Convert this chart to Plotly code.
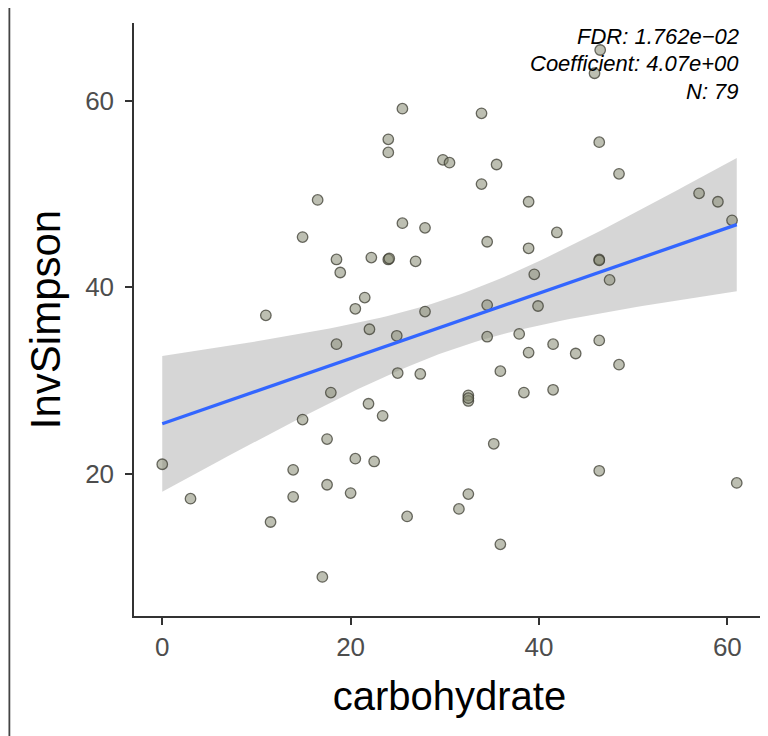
import numpy as np
import plotly.graph_objects as go

# carbohydrate intake vs InvSimpson diversity
carbohydrate = [
    25.5, 24.0, 24.0, 29.8, 30.5, 16.5, 25.5, 27.9, 14.9, 18.5,
    22.2, 24.0, 24.1, 26.9, 18.9, 21.5, 20.5, 11.0, 27.9, 46.5,
    45.9, 33.9, 35.5, 46.4, 48.5, 33.9, 38.9, 57.0, 59.0, 60.5,
    34.5, 41.9, 38.9, 46.4, 39.5, 47.5, 39.9, 34.5, 34.5, 37.9,
    41.5, 38.9, 43.9, 46.4, 48.5, 35.9, 32.5, 32.5, 38.4, 41.5,
    35.2, 46.4, 61.0, 32.5, 31.5, 35.9, 22.0, 18.5, 24.9, 25.0,
    27.4, 17.9, 21.9, 23.4, 14.9, 17.5, 20.5, 22.5, 0.0, 13.9,
    3.0, 13.9, 17.5, 20.0, 11.5, 26.0, 17.0, 32.5, 46.4,
]
inv_simpson = [
    59.2, 55.9, 54.5, 53.7, 53.4, 49.4, 46.9, 46.4, 45.4, 43.0,
    43.2, 43.0, 43.1, 42.8, 41.6, 38.9, 37.7, 37.0, 37.4, 65.5,
    63.0, 58.7, 53.2, 55.6, 52.2, 51.1, 49.2, 50.1, 49.2, 47.2,
    44.9, 45.9, 44.2, 43.0, 41.4, 40.8, 38.0, 38.1, 34.7, 35.0,
    33.9, 33.0, 32.9, 34.3, 31.7, 31.0, 28.4, 27.8, 28.7, 29.0,
    23.2, 20.3, 19.0, 17.8, 16.2, 12.4, 35.5, 33.9, 34.8, 30.8,
    30.7, 28.7, 27.5, 26.2, 25.8, 23.7, 21.6, 21.3, 21.0, 20.4,
    17.3, 17.5, 18.8, 17.9, 14.8, 15.4, 8.9, 28.1, 42.9,
]
stats_lines = ["FDR: 1.762e\u221202", "Coefficient: 4.07e+00", "N: 79"]

# linear fit with 95% confidence band (like geom_smooth(method="lm"))
x = np.array(carbohydrate)
y = np.array(inv_simpson)
n = len(x)
slope, intercept = np.polyfit(x, y, 1)
resid = y - (intercept + slope * x)
s = np.sqrt(np.sum(resid ** 2) / (n - 2))
sxx = np.sum((x - x.mean()) ** 2)
xs = np.linspace(x.min(), x.max(), 80)
fit = intercept + slope * xs
se = s * np.sqrt(1 / n + (xs - x.mean()) ** 2 / sxx)
t = 1.991
lower, upper = fit - t * se, fit + t * se

FONT = "Liberation Sans, Arial"

fig = go.Figure()
fig.add_trace(go.Scatter(
    x=np.concatenate([xs, xs[::-1]]), y=np.concatenate([upper, lower[::-1]]),
    fill="toself", fillcolor="rgba(153,153,153,0.4)", line=dict(width=0),
    mode="lines", hoverinfo="skip",
))
fig.add_trace(go.Scatter(
    x=carbohydrate, y=inv_simpson, mode="markers",
    marker=dict(size=10.5, color="rgba(135,138,115,0.55)",
                line=dict(color="rgba(60,60,50,0.75)", width=1.3)),
))
fig.add_trace(go.Scatter(
    x=xs, y=fit, mode="lines", line=dict(color="#3366FF", width=3.3),
))

for i, txt in enumerate(stats_lines):
    fig.add_annotation(
        x=0.962, y=0.978 - i * 0.047, xref="paper", yref="paper",
        text=f"<i>{txt}</i>", showarrow=False, xanchor="right", yanchor="middle",
        font=dict(family=FONT, size=22, color="black"),
    )

axis_common = dict(
    showgrid=False, zeroline=False, showline=True, linecolor="#333333", linewidth=1.5,
    ticks="outside", ticklen=7, tickwidth=1.5, tickcolor="#333333", automargin=False,
    tickfont=dict(family=FONT, size=26, color="#4d4d4d"),
)
fig.update_xaxes(range=[-3.0, 64.0], tickvals=[0, 20, 40, 60], title_text="carbohydrate",
                 title_font=dict(family=FONT, size=40, color="black"),
                 title_standoff=21, **axis_common)
fig.update_yaxes(range=[4.7, 68.4], tickvals=[20, 40, 60], title_text="InvSimpson",
                 title_font=dict(family=FONT, size=42, color="black"),
                 ticklabelstandoff=6, title_standoff=11, **axis_common)

# thin frame line on the far left of the picture
fig.add_shape(type="line", xref="paper", yref="paper", x0=-0.1975, x1=-0.1975, y0=-0.21, y1=1.04,
              line=dict(color="#444444", width=1.8))

# page body adds an 8px offset, so the figure is 8px smaller and shifted margins
fig.update_layout(
    width=760, height=728, showlegend=False,
    plot_bgcolor="white", paper_bgcolor="white",
    margin=dict(l=126, r=3, t=15, b=120),
)
fig.write_html("out.html")
